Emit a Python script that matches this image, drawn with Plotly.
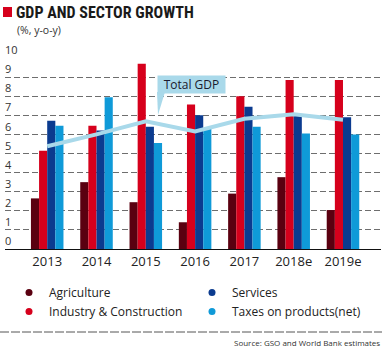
import plotly.graph_objects as go

years = ["2013", "2014", "2015", "2016", "2017", "2018e", "2019e"]
agriculture = [2.65, 3.5, 2.45, 1.4, 2.9, 3.76, 2.04]
industry = [5.14, 6.45, 9.7, 7.57, 8.0, 8.85, 8.85]
services = [6.72, 6.2, 6.4, 7.0, 7.45, 6.98, 6.9]
taxes = [6.45, 7.95, 5.55, 6.3, 6.4, 6.05, 6.0]
total_gdp = [5.38, 6.0, 6.68, 6.16, 6.82, 7.05, 6.77]
y_ticks = list(range(0, 11))

W, H = 390, 350
L, R, T, B = 5, 9, 58, 101
pw, ph = W - L - R, H - T - B

def px(x):
    return (x - L) / pw

def py(y):
    return (H - B - y) / ph

colors = {
    "Agriculture": "#5a0010",
    "Industry & Construction": "#d6001c",
    "Services": "#0b3b8f",
    "Taxes on products(net)": "#0f9ad8",
}
gdp_color = "#a9d9ea"

xs = list(range(len(years)))
fig = go.Figure()
for name, vals in [("Agriculture", agriculture), ("Industry & Construction", industry),
                   ("Services", services), ("Taxes on products(net)", taxes)]:
    fig.add_trace(go.Bar(x=xs, y=vals, name=name, marker_color=colors[name],
                         marker_line_width=0, showlegend=False))

fig.add_trace(go.Scatter(x=xs, y=total_gdp, mode="lines", line=dict(color=gdp_color, width=4),
                         showlegend=False))

# legend entries (circle markers)
ranks = {"Agriculture": 1, "Services": 2, "Industry & Construction": 3, "Taxes on products(net)": 4}
for name, c in colors.items():
    fig.add_trace(go.Scatter(x=[None], y=[None], mode="markers", name=name,
                             marker=dict(color=c, size=7, symbol="circle"),
                             legendrank=ranks[name], showlegend=True))

font_main = "Open Sans, Noto Sans, sans-serif"

fig.update_layout(
    width=W, height=H,
    margin=dict(l=L, r=R, t=T, b=B),
    paper_bgcolor="white", plot_bgcolor="white",
    barmode="group", bargap=0.34, bargroupgap=0,
    font=dict(family=font_main, color="#222"),
    legend=dict(orientation="h", x=px(9), xanchor="left", y=py(278), yanchor="top",
                entrywidth=138, entrywidthmode="pixels", traceorder="normal",
                font=dict(size=12, color="#222"), itemwidth=30, bgcolor="rgba(0,0,0,0)"),
    xaxis=dict(range=[-0.856, 6.771], tickmode="array", tickvals=xs, ticktext=years,
               showgrid=False, zeroline=False, showline=True, linecolor="#111", linewidth=1.3,
               ticks="", tickfont=dict(size=13, color="#222")),
    yaxis=dict(range=[0, 10], tickmode="array", tickvals=y_ticks, ticktext=[str(v) for v in y_ticks],
               showgrid=True, gridcolor="#6e6e6e", gridwidth=1, griddash="6px,3px",
               zeroline=False, showline=False, ticks="",
               ticklabelposition="inside top", ticklabeloverflow="allow", ticklabelstandoff=-3,
               tickfont=dict(size=11, color="#333")),
    showlegend=True,
)

shapes = []
# red square in header
shapes.append(dict(type="rect", xref="paper", yref="paper", x0=px(3), x1=px(12), y0=py(17), y1=py(7),
                   fillcolor="#d6001c", line_width=0))
# callout pointer
shapes.append(dict(type="path", xref="paper", yref="paper",
                   path=f"M {px(157)},{py(92)} L {px(165)},{py(92)} L {px(158)},{py(115)} Z",
                   fillcolor=gdp_color, line_width=0))
# bottom dashed separator
shapes.append(dict(type="line", xref="paper", yref="paper", x0=px(0), x1=px(382), y0=py(332), y1=py(332),
                   line=dict(color="#555", width=1, dash="9px,2px")))
fig.update_layout(shapes=shapes)

ann = []
ann.append(dict(text="<b>GDP AND SECTOR GROWTH</b>", xref="paper", yref="paper", x=px(14), y=py(12),
                xanchor="left", yanchor="middle", showarrow=False,
                font=dict(family="Roboto Condensed, Liberation Sans Narrow, Roboto, sans-serif", size=16, color="#1a1a1a")))
ann.append(dict(text="(%, y-o-y)", xref="paper", yref="paper", x=px(15), y=py(30),
                xanchor="left", yanchor="middle", showarrow=False,
                font=dict(size=10.5, color="#333")))
ann.append(dict(text="Total GDP", xref="paper", yref="paper", x=px(191.5), y=py(84.5),
                xanchor="center", yanchor="middle", showarrow=False, bgcolor=gdp_color,
                width=65, height=15, font=dict(size=12, color="#1a1a2e")))
ann.append(dict(text="Source: GSO and World Bank estimates", xref="paper", yref="paper", x=px(382), y=py(342),
                xanchor="right", yanchor="middle", showarrow=False,
                font=dict(size=8, color="#333")))
fig.update_layout(annotations=ann)

fig.write_html("out.html")
